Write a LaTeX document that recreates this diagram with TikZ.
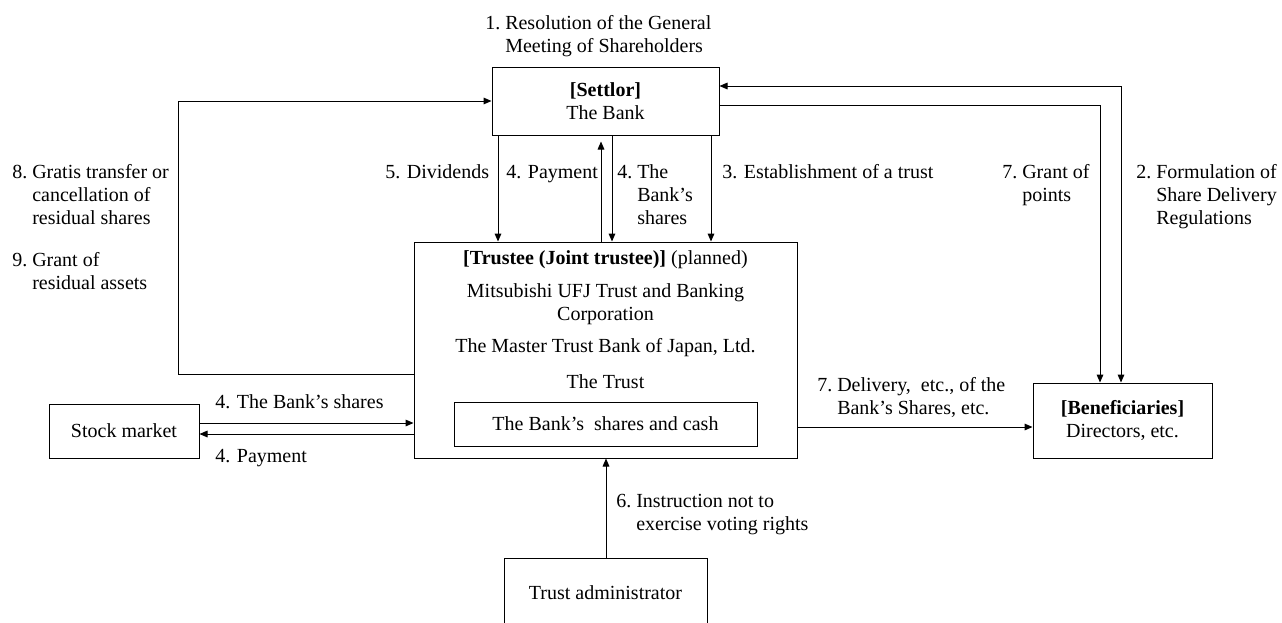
\documentclass[tikz,border=0pt]{standalone}
\usepackage{fontspec}
\setmainfont{Liberation Serif}
\usetikzlibrary{arrows.meta}
\begin{document}
\begin{tikzpicture}[x=0.75pt,y=-0.75pt,
  every node/.style={font=\fontsize{15}{17.6}\selectfont},
  box/.style={draw=black,line width=0.75pt,rectangle,inner sep=0pt,align=center},
  lbl/.style={inner sep=0pt,anchor=base west},
  txt/.style={inner sep=0pt,align=center},
  conn/.style={line width=0.75pt},
  arr/.style={conn,-{Triangle[length=6pt,width=5pt]}},
  darr/.style={conn,{Triangle[length=6pt,width=5pt]}-{Triangle[length=6pt,width=5pt]}}]
\useasboundingbox (0,0) rectangle (1282,622);
\fill[white] (0,0) rectangle (1282,622);

% boxes
\node[box,minimum width=170.25pt,minimum height=51pt] (settlor) at (605.5,101)
  {\textbf{[Settlor]}\\The Bank};
\node[box,minimum width=287.25pt,minimum height=162pt] (trustee) at (605.5,350) {};
\node[box,minimum width=227.25pt,minimum height=33pt] (inner) at (605.5,424) {The Bank’s\ \ shares and cash};
\node[box,minimum width=112.5pt,minimum height=40.5pt] (stock) at (124,431) {Stock market};
\node[box,minimum width=134.25pt,minimum height=56.25pt] (benef) at (1122.5,420.5)
  {\textbf{[Beneficiaries]}\\Directors, etc.};
\node[box,minimum width=152.25pt,minimum height=52.5pt] (admin) at (605.5,593) {Trust administrator};

% trustee texts
\node[txt] (t1) at (605.5,260) {\textbf{[Trustee (Joint trustee)]} (planned)};
\node[txt] (t2) at (605.5,304) {Mitsubishi UFJ Trust and Banking\\Corporation};
\node[txt] (t3) at (605.5,348) {The Master Trust Bank of Japan, Ltd.};
\node[txt] (t4) at (605.5,381.5) {The Trust};

% helper coordinates
\coordinate (xd) at (498,0);
\coordinate (xp) at (601,0);
\coordinate (xs) at (612,0);
\coordinate (xe) at (711,0);
\coordinate (L1) at (178,374);
\coordinate (L2) at (178,101);
\coordinate (yb) at (0,423);
\coordinate (yp) at (0,434);
\coordinate (yd) at (0,427);
\coordinate (G1) at (1100,105.5);
\coordinate (F1) at (1121,86);
\coordinate (xa) at (606,0);

% connectors
\draw[arr] (settlor.south -| xd) -- (trustee.north -| xd);
\draw[arr] (trustee.north -| xp) -- ([yshift=-4.5pt]settlor.south -| xp);
\draw[arr] (settlor.south -| xs) -- (trustee.north -| xs);
\draw[arr] (settlor.south -| xe) -- (trustee.north -| xe);
\draw[arr] (trustee.west |- L1) -- (L1) -- (L2) -- (settlor.west |- L2);
\draw[arr] (stock.east |- yb) -- (trustee.west |- yb);
\draw[arr] (trustee.west |- yp) -- (stock.east |- yp);
\draw[arr] (trustee.east |- yd) -- (benef.west |- yd);
\draw[arr] (settlor.east |- G1) -- (G1) -- (benef.north -| G1);
\draw[darr] (settlor.east |- F1) -- (F1) -- (benef.north -| F1);
\draw[arr] (admin.north -| xa) -- (trustee.south -| xa);

% labels
\node[lbl] (l1) at (485,29) {\begin{tabular}[t]{@{}l@{\ }l@{}}1. & Resolution of the General\\ & Meeting of Shareholders\end{tabular}};
\node[lbl] (l5) at (385,178) {5. Dividends};
\node[lbl] (l4p) at (506,178) {4. Payment};
\node[lbl] (l4s) at (617,178) {\begin{tabular}[t]{@{}l@{\ }l@{}}4. & The\\ & Bank’s\\ & shares\end{tabular}};
\node[lbl] (l3) at (722,178) {3. Establishment of a trust};
\node[lbl] (l8) at (12,178) {\begin{tabular}[t]{@{}l@{\ }l@{}}8. & Gratis transfer or\\ & cancellation of\\ & residual shares\end{tabular}};
\node[lbl] (l9) at (12,266) {\begin{tabular}[t]{@{}l@{\ }l@{}}9. & Grant of\\ & residual assets\end{tabular}};
\node[lbl] (l4b) at (215,408) {4. The Bank’s shares};
\node[lbl] (l4m) at (215,462) {4. Payment};
\node[lbl] (l6) at (616,507.5) {\begin{tabular}[t]{@{}l@{\ }l@{}}6. & Instruction not to\\ & exercise voting rights\end{tabular}};
\node[lbl] (l7d) at (817,391) {\begin{tabular}[t]{@{}l@{\ }l@{}}7. & Delivery,\ \ etc., of the\\ & Bank’s Shares, etc.\end{tabular}};
\node[lbl] (l7g) at (1002,178) {\begin{tabular}[t]{@{}l@{\ }l@{}}7. & Grant of\\ & points\end{tabular}};
\node[lbl] (l2) at (1136,178) {\begin{tabular}[t]{@{}l@{\ }l@{}}2. & Formulation of\\ & Share Delivery\\ & Regulations\end{tabular}};
\end{tikzpicture}
\end{document}
